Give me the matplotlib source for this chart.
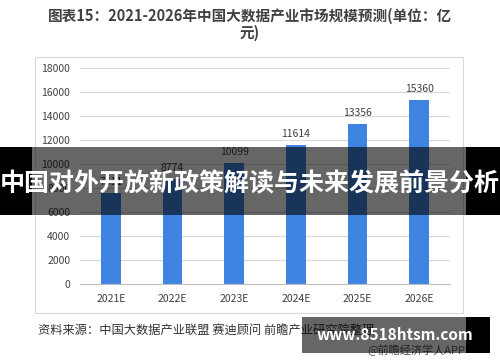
import matplotlib
matplotlib.use("Agg")
import matplotlib.pyplot as plt
from matplotlib.patches import Rectangle

plt.rcParams["font.family"] = ["Noto Sans CJK SC", "DejaVu Sans"]

years = ["2021E", "2022E", "2023E", "2024E", "2025E", "2026E"]
market_size = [7611, 8774, 10099, 11614, 13356, 15360]
y_ticks = [0, 2000, 4000, 6000, 8000, 10000, 12000, 14000, 16000, 18000]

blue = "#3F84E0"
grid_grey = "#D9D9D9"
text_grey = "#404040"

fig = plt.figure(figsize=(5, 3.62), dpi=100)
fig.patch.set_facecolor("white")


def fig_rect(x0, y0, w, h, color, alpha=1.0, z=5):
    r = Rectangle((x0, y0), w, h, transform=fig.transFigure, facecolor=color,
                  edgecolor="none", alpha=alpha, zorder=z)
    fig.patches.append(r)


# chart frame
fig.patches.append(Rectangle((0.07, 0.136), 0.856, 0.707, transform=fig.transFigure,
                             facecolor="none", edgecolor="#D9D9D9", linewidth=0.8, zorder=-1))

ax = fig.add_axes([0.16, 0.2155, 0.74, 0.5967])
x = range(len(years))
bars = ax.bar(x, market_size, width=0.32, color=blue, zorder=2)
for bar, v in zip(bars, market_size):
    ax.text(bar.get_x() + bar.get_width() / 2, v + 500, str(v),
            ha="center", va="bottom", fontsize=7.5, color=text_grey)

ax.set_xlim(-0.5, 5.5)
ax.set_ylim(0, 18000)
ax.set_yticks(y_ticks)
ax.set_yticklabels([str(t) for t in y_ticks], fontsize=7.5, color=text_grey)
ax.set_xticks(list(x))
ax.set_xticklabels(years, fontsize=7.5, color=text_grey)
ax.grid(axis="y", color=grid_grey, linewidth=0.8, zorder=0)
for s in ["top", "right", "left"]:
    ax.spines[s].set_visible(False)
ax.spines["bottom"].set_color("#BFBFBF")
ax.tick_params(length=0, pad=7)
ax.patch.set_alpha(0)

fig.text(0.5, 0.955, "图表15：2021-2026年中国大数据产业市场规模预测(单位：亿",
         ha="center", va="center", fontsize=10.5, fontweight="bold", color=text_grey)
fig.text(0.5, 0.91, "元)", ha="center", va="center", fontsize=10.5,
         fontweight="bold", color=text_grey)

fig.text(0.076, 0.088, "资料来源：中国大数据产业联盟 赛迪顾问 前瞻产业研究院整理",
         ha="left", va="center", fontsize=8.8, color="#333333")
fig.text(0.93, 0.033, "@前瞻经济学人APP", ha="right", va="center",
         fontsize=8, color="#555555")

# banner overlay
fig_rect(0, 0.406, 0.064, 0.188, "black")
fig_rect(0.932, 0.406, 0.068, 0.188, "black")
fig_rect(0.064, 0.406, 0.868, 0.188, "black", alpha=0.6)
fig.text(0.5, 0.49, "中国对外开放新政策解读与未来发展前景分析", ha="center", va="center",
         fontsize=18, fontweight="bold", color="white", zorder=7)

# url tag
fig_rect(0.604, 0.025, 0.328, 0.1, "black", alpha=0.6)
fig_rect(0.932, 0.025, 0.048, 0.1, "black")
fig.text(0.79, 0.075, "www.8518htsm.com", ha="center", va="center",
         fontsize=11, fontweight="bold", color="white", zorder=7)

fig.savefig("out.png", dpi=100)
